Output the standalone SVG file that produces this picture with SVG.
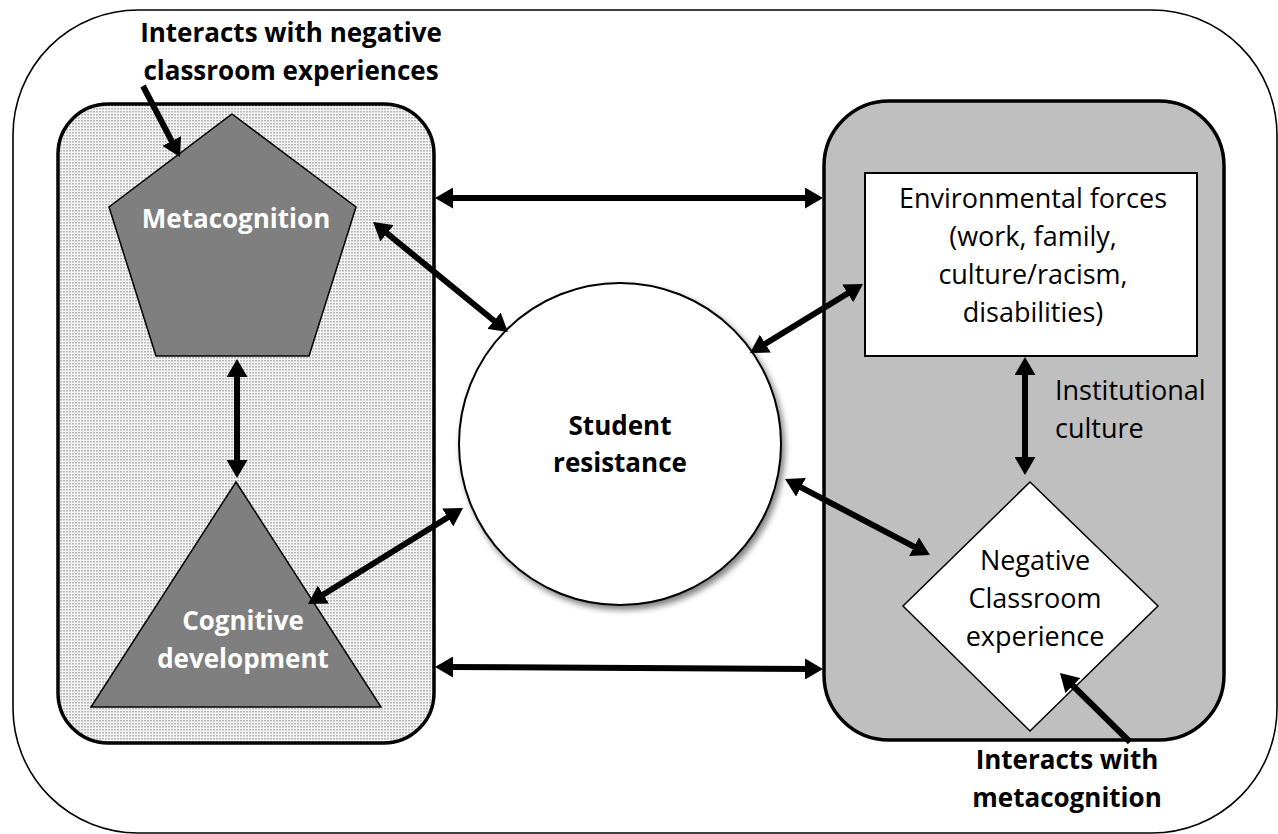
<svg xmlns="http://www.w3.org/2000/svg" width="1278" height="834" viewBox="0 0 1278 834">
<style>
.b{font-family:"Open Sans","Liberation Sans",sans-serif;font-weight:bold;font-size:26px;text-anchor:middle}
.r{font-family:"Open Sans","Liberation Sans",sans-serif;font-size:27px;fill:#000}
.w{fill:#fff}
.k{fill:#000}
.c{stroke:#000;stroke-width:6;fill:none;marker-end:url(#ah)}
.d{marker-start:url(#ah)}
</style>
<defs>
<pattern id="dots" width="3" height="3" patternUnits="userSpaceOnUse">
<rect width="3" height="3" fill="#f4f4f4"/>
<rect width="2" height="1.5" fill="#b8b8b8"/>
</pattern>
<marker id="ah" markerUnits="userSpaceOnUse" markerWidth="18" markerHeight="21" viewBox="0 0 18 21" refX="8" refY="10.5" orient="auto-start-reverse">
<path d="M0,0 L18,10.5 L0,21 z" fill="#000"/>
</marker>
<filter id="sh" x="-20%" y="-20%" width="150%" height="150%">
<feGaussianBlur in="SourceAlpha" stdDeviation="3"/>
<feOffset dx="3" dy="4"/>
<feComponentTransfer><feFuncA type="linear" slope="0.5"/></feComponentTransfer>
<feMerge><feMergeNode/><feMergeNode in="SourceGraphic"/></feMerge>
</filter>
</defs>
<rect width="1278" height="834" fill="#fff"/>
<g id="outer">
<rect x="13" y="10" width="1264" height="823" rx="125" ry="125" fill="#fff" stroke="#000" stroke-width="1.6"/>
</g>
<g id="left-panel">
<rect x="58" y="104" width="376" height="639" rx="50" ry="50" fill="url(#dots)" stroke="#000" stroke-width="3.5"/>
</g>
<g id="right-panel">
<rect x="824" y="101" width="400" height="639" rx="65" ry="65" fill="#bfbfbf" stroke="#000" stroke-width="3.5"/>
</g>
<g id="metacognition">
<polygon points="232,114 356,207 309,356 156,356 109,207" fill="#7f7f7f" stroke="#000" stroke-width="1.5"/>
<text class="b w" x="236" y="228">Metacognition</text>
</g>
<g id="cognitive-development">
<polygon points="236,482 381,707 91,707" fill="#7f7f7f" stroke="#000" stroke-width="1.5"/>
<text class="b w" x="243" y="630">Cognitive</text>
<text class="b w" x="243" y="668">development</text>
</g>
<g id="student-resistance">
<circle cx="620" cy="444" r="161" fill="#fff" stroke="#000" stroke-width="2" filter="url(#sh)"/>
<text class="b k" x="620" y="435">Student</text>
<text class="b k" x="620" y="472">resistance</text>
</g>
<g id="environmental-forces">
<rect x="865" y="173" width="332" height="183" fill="#fff" stroke="#000" stroke-width="2"/>
<text class="r" text-anchor="middle" x="1033" y="208">Environmental forces</text>
<text class="r" text-anchor="middle" x="1033" y="246">(work, family,</text>
<text class="r" text-anchor="middle" x="1033" y="284">culture/racism,</text>
<text class="r" text-anchor="middle" x="1033" y="322">disabilities)</text>
</g>
<g id="negative-classroom">
<polygon points="1030,482 1158,606 1030,731 903,606" fill="#fff" stroke="#000" stroke-width="1.5"/>
<text class="r" text-anchor="middle" x="1035" y="570">Negative</text>
<text class="r" text-anchor="middle" x="1035" y="608">Classroom</text>
<text class="r" text-anchor="middle" x="1035" y="646">experience</text>
</g>
<g id="labels">
<text class="b k" x="291" y="42">Interacts with negative</text>
<text class="b k" x="291" y="80">classroom experiences</text>
<text class="r" x="1055" y="400">Institutional</text>
<text class="r" x="1055" y="438">culture</text>
<text class="b k" x="1067" y="769">Interacts with</text>
<text class="b k" x="1067" y="807">metacognition</text>
</g>
<g id="connectors">
<line class="c d" x1="445" y1="198" x2="813" y2="198"/>
<line class="c d" x1="445" y1="667" x2="813" y2="669"/>
<line class="c d" x1="237" y1="369" x2="237" y2="468"/>
<line class="c" x1="143" y1="86" x2="175.4" y2="148.1"/>
<line class="c d" x1="380.8" y1="228.3" x2="500.2" y2="325.7"/>
<line class="c d" x1="854.5" y1="289.2" x2="758.5" y2="347.8"/>
<line class="c d" x1="316.5" y1="598.7" x2="454.5" y2="513.3"/>
<line class="c d" x1="793.9" y1="483.6" x2="921.1" y2="550.4"/>
<line class="c d" x1="1025" y1="367" x2="1025" y2="465"/>
<line class="c" x1="1130" y1="742" x2="1067.1" y2="680"/>
</g>
</svg>
